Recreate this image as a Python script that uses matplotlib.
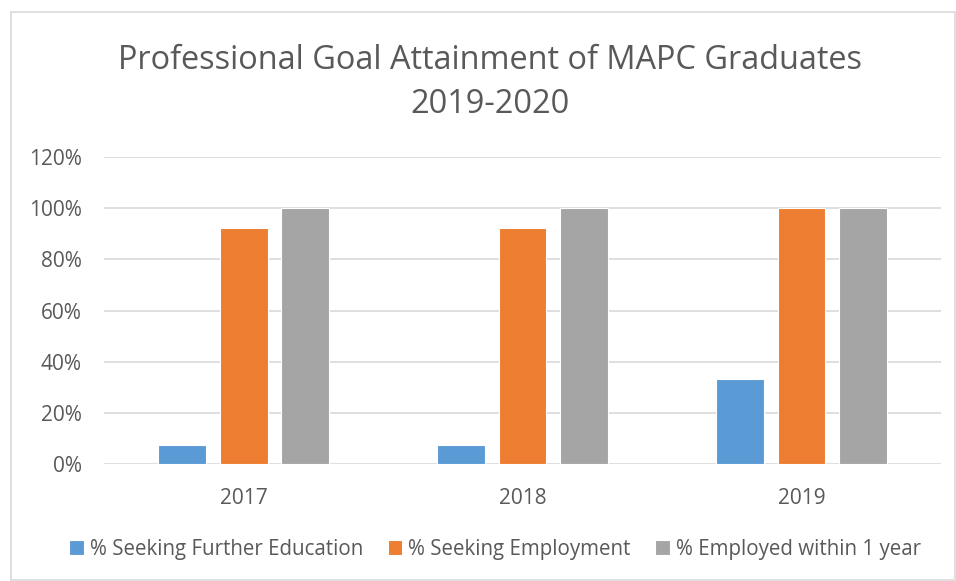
"""
Professional Goal Attainment of MAPC Graduates — 分組長條圖
"""
import matplotlib
matplotlib.use("Agg")
import matplotlib.pyplot as plt
from matplotlib.patches import Rectangle
from matplotlib.ticker import PercentFormatter
import numpy as np

# ── 資料 ─────────────────────────────────────────────
YEARS: list[str] = ["2017", "2018", "2019"]
SERIES: list[str] = [
    "% Seeking Further Education",
    "% Seeking Employment",
    "% Employed within 1 year",
]
FURTHER_EDU: list[float] = [7.7, 7.7, 33.3]
SEEKING_EMP: list[float] = [92.3, 92.3, 100]
EMPLOYED_1Y: list[float] = [100, 100, 100]
Y_TICKS: list[int] = [0, 20, 40, 60, 80, 100, 120]

# ── 樣式 ─────────────────────────────────────────────
COLORS: list[str] = ["#5B9BD5", "#ED7D31", "#A5A5A5"]
TEXT_COLOR: str = "#595959"
GRID_COLOR: str = "#D9D9D9"
FONT: list[str] = ["Open Sans", "DejaVu Sans"]

plt.rcParams["font.family"] = FONT

fig = plt.figure(figsize=(9.56, 5.81), dpi=100)
ax = fig.add_axes([0.1088, 0.2009, 0.8755, 0.5289])

# 外框
fig.patches.append(Rectangle((11 / 956, 1 / 581), 944 / 956, 568 / 581,
                             transform=fig.transFigure, fill=False,
                             edgecolor=GRID_COLOR, linewidth=1.2))

x = np.arange(len(YEARS))
width = 0.172
step = 0.222
for i, (vals, color, label) in enumerate(zip([FURTHER_EDU, SEEKING_EMP, EMPLOYED_1Y], COLORS, SERIES)):
    ax.bar(x + (i - 1) * step, vals, width, color=color, label=label,
           edgecolor="white", linewidth=0.8, zorder=3)

ax.set_xlim(-0.5, len(YEARS) - 0.5)
ax.set_ylim(0, 120)
ax.set_yticks(Y_TICKS)
ax.yaxis.set_major_formatter(PercentFormatter(decimals=0))
ax.set_xticks(x)
ax.set_xticklabels(YEARS)

ax.grid(axis="y", color=GRID_COLOR, linewidth=1.2, zorder=0)
for s in ax.spines.values():
    s.set_visible(False)
ax.tick_params(axis="both", length=0, labelsize=15, colors=TEXT_COLOR)
ax.tick_params(axis="y", pad=16)
ax.tick_params(axis="x", pad=17)

fig.text(0.5125, 0.858, "Professional Goal Attainment of MAPC Graduates\n2019-2020",
         ha="center", va="center", fontsize=23.4, color=TEXT_COLOR, linespacing=1.45)

leg = fig.legend(loc="center", bbox_to_anchor=(0.518, 0.055), ncol=3, frameon=False,
                 fontsize=14.8, handlelength=0.7, handleheight=0.7,
                 handletextpad=0.3, columnspacing=1.2)
for t in leg.get_texts():
    t.set_color(TEXT_COLOR)

fig.savefig("out.png", dpi=100)
